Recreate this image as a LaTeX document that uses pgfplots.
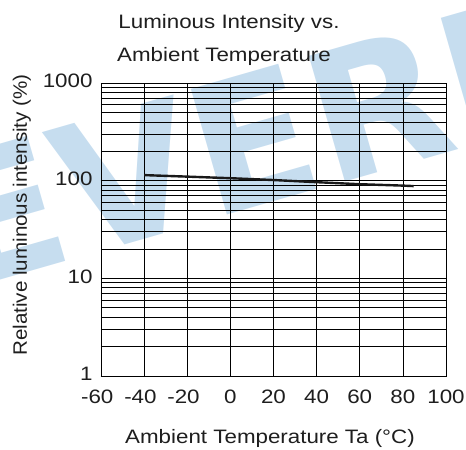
\documentclass[border=0pt]{standalone}
\usepackage{fontspec}
\setmainfont{Liberation Sans}[FakeStretch=1.15]
\newfontfamily\ylabfont{Liberation Sans}[FakeStretch=1.06]
\newfontfamily\wmfont{DejaVu Sans}
\usepackage{pgfplots}
\pgfplotsset{compat=1.18}
\definecolor{wmblue}{RGB}{198,221,239}
\definecolor{txt}{RGB}{30,30,30}

\begin{document}
\begin{tikzpicture}
\useasboundingbox (-101bp,-74bp) rectangle (365bp,376bp);

% faint brand watermark behind the chart
\node[rotate=16, anchor=base west, inner sep=0pt, text=wmblue,
      font=\wmfont\bfseries\fontsize{180}{180}\selectfont]
  at (-141bp,84bp) {EVERLIGHT};

\begin{axis}[
  at={(0bp,0bp)}, anchor=south west,
  scale only axis, width=345bp, height=293bp,
  xmin=-60, xmax=100, ymin=1, ymax=1000,
  ymode=log,
  xtick={-60,-40,-20,0,20,40,60,80,100},
  xticklabels={\llap{-}60,\llap{-}40,\llap{-}20,0,20,40,60,80,100},
  ytick={1,10,100,1000},
  yticklabels={1,10,100,1000},
  major tick length=0pt, minor tick length=0pt,
  xmajorgrids, ymajorgrids, yminorgrids,
  grid style={black, line width=0.7bp},
  minor grid style={black, line width=0.7bp},
  axis line style={black, line width=0.8bp},
  tick label style={font=\fontsize{19.5}{20}\selectfont, text=txt},
  xticklabel style={anchor=base, yshift=-27bp},
  yticklabel style={anchor=east, xshift=-5bp, yshift=2bp},
]
\addplot[black!90, line width=2.4bp, line cap=butt] coordinates {
  (-40,114) (-20,110) (0,106) (20,101.5) (40,96.5) (60,92) (80,89) (85,88)
};
\end{axis}

% titles and axis labels
\node[anchor=base, text=txt, font=\fontsize{19.5}{20}\selectfont] at (128bp,347bp) {Luminous Intensity vs.};
\node[anchor=base, text=txt, font=\fontsize{19.5}{20}\selectfont] at (123bp,314bp) {Ambient Temperature};
\node[anchor=base, text=txt, font=\fontsize{19.5}{20}\selectfont] at (169bp,-67bp) {Ambient Temperature Ta (°C)};
\node[anchor=base, rotate=90, text=txt, font=\ylabfont\fontsize{19.5}{20}\selectfont] at (-74bp,161bp) {Relative luminous intensity (\%)};
\end{tikzpicture}
\end{document}
